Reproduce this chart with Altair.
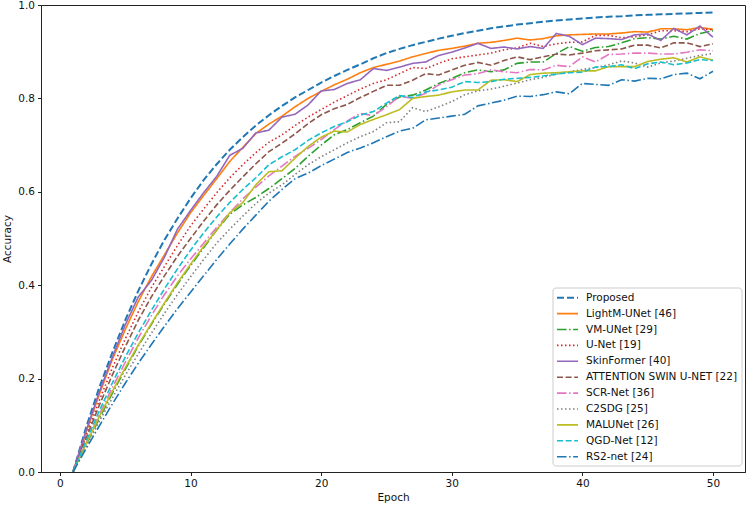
import altair as alt
import pandas as pd

# Training accuracy per epoch for each segmentation model
epochs = list(range(1, 51))

models = [
    "Proposed",
    "LightM-UNet [46]",
    "VM-UNet [29]",
    "U-Net [19]",
    "SkinFormer [40]",
    "ATTENTION SWIN U-NET [22]",
    "SCR-Net [36]",
    "C2SDG [25]",
    "MALUNet [26]",
    "QGD-Net [12]",
    "RS2-net [24]",
]

proposed = [0.000, 0.095, 0.180, 0.255, 0.325, 0.388, 0.445, 0.497, 0.543, 0.586,
            0.625, 0.659, 0.690, 0.717, 0.742, 0.764, 0.784, 0.802, 0.818, 0.834,
            0.848, 0.861, 0.873, 0.886, 0.897, 0.906, 0.914, 0.921, 0.928, 0.934,
            0.940, 0.945, 0.950, 0.954, 0.958, 0.961, 0.964, 0.967, 0.969, 0.971,
            0.973, 0.975, 0.976, 0.978, 0.979, 0.980, 0.981, 0.982, 0.983, 0.984]

lightm_unet = [0.000, 0.085, 0.165, 0.240, 0.305, 0.365, 0.418, 0.465, 0.512, 0.555,
               0.592, 0.628, 0.665, 0.695, 0.725, 0.745, 0.762, 0.782, 0.800, 0.815,
               0.829, 0.841, 0.855, 0.866, 0.873, 0.880, 0.889, 0.896, 0.903, 0.907,
               0.912, 0.918, 0.920, 0.924, 0.929, 0.925, 0.928, 0.934, 0.936, 0.937,
               0.938, 0.938, 0.940, 0.943, 0.942, 0.949, 0.949, 0.947, 0.952, 0.948]

vm_unet = [0.000, 0.058, 0.114, 0.168, 0.220, 0.270, 0.316, 0.360, 0.402, 0.442,
           0.480, 0.518, 0.552, 0.572, 0.588, 0.607, 0.628, 0.650, 0.676, 0.700,
           0.722, 0.733, 0.748, 0.762, 0.787, 0.803, 0.807, 0.818, 0.832, 0.843,
           0.855, 0.861, 0.857, 0.861, 0.875, 0.878, 0.878, 0.896, 0.911, 0.901,
           0.909, 0.911, 0.919, 0.928, 0.930, 0.927, 0.933, 0.927, 0.939, 0.945]

u_net = [0.000, 0.078, 0.152, 0.222, 0.285, 0.343, 0.395, 0.440, 0.485, 0.527,
         0.563, 0.598, 0.630, 0.658, 0.684, 0.706, 0.722, 0.742, 0.760, 0.776,
         0.792, 0.806, 0.820, 0.832, 0.840, 0.853, 0.866, 0.864, 0.875, 0.885,
         0.889, 0.893, 0.897, 0.904, 0.908, 0.918, 0.911, 0.917, 0.920, 0.921,
         0.935, 0.935, 0.930, 0.932, 0.936, 0.945, 0.945, 0.943, 0.949, 0.947]

skinformer = [0.000, 0.088, 0.170, 0.245, 0.315, 0.375, 0.410, 0.460, 0.520, 0.560,
              0.598, 0.633, 0.678, 0.693, 0.726, 0.732, 0.760, 0.766, 0.786, 0.816,
              0.819, 0.832, 0.840, 0.864, 0.860, 0.867, 0.875, 0.878, 0.892, 0.899,
              0.908, 0.918, 0.907, 0.910, 0.906, 0.911, 0.907, 0.939, 0.933, 0.915,
              0.929, 0.928, 0.926, 0.936, 0.938, 0.924, 0.950, 0.936, 0.955, 0.931]

attention_swin = [0.000, 0.072, 0.142, 0.207, 0.268, 0.325, 0.375, 0.420, 0.462, 0.500,
                  0.537, 0.572, 0.603, 0.632, 0.660, 0.686, 0.704, 0.724, 0.746, 0.765,
                  0.778, 0.787, 0.802, 0.815, 0.828, 0.828, 0.839, 0.853, 0.850, 0.861,
                  0.871, 0.877, 0.871, 0.881, 0.889, 0.883, 0.889, 0.895, 0.893, 0.897,
                  0.902, 0.904, 0.906, 0.914, 0.914, 0.908, 0.919, 0.919, 0.911, 0.917]

scr_net = [0.000, 0.062, 0.122, 0.180, 0.235, 0.287, 0.335, 0.380, 0.420, 0.456,
           0.490, 0.524, 0.555, 0.585, 0.610, 0.634, 0.655, 0.676, 0.693, 0.712,
           0.733, 0.752, 0.768, 0.763, 0.782, 0.805, 0.800, 0.811, 0.829, 0.840,
           0.850, 0.853, 0.861, 0.857, 0.855, 0.862, 0.861, 0.871, 0.868, 0.889,
           0.878, 0.894, 0.895, 0.897, 0.897, 0.895, 0.895, 0.899, 0.904, 0.902]

c2sdg = [0.000, 0.055, 0.108, 0.158, 0.207, 0.253, 0.297, 0.340, 0.380, 0.418,
         0.455, 0.490, 0.520, 0.548, 0.575, 0.597, 0.615, 0.637, 0.658, 0.675,
         0.690, 0.705, 0.718, 0.729, 0.748, 0.750, 0.780, 0.772, 0.782, 0.793,
         0.808, 0.816, 0.820, 0.826, 0.833, 0.840, 0.845, 0.852, 0.857, 0.862,
         0.866, 0.872, 0.880, 0.876, 0.867, 0.876, 0.880, 0.886, 0.892, 0.896]

malunet = [0.000, 0.060, 0.118, 0.172, 0.223, 0.272, 0.318, 0.362, 0.405, 0.445,
           0.483, 0.518, 0.555, 0.577, 0.615, 0.643, 0.645, 0.672, 0.697, 0.717,
           0.730, 0.728, 0.744, 0.755, 0.765, 0.776, 0.800, 0.804, 0.807, 0.814,
           0.818, 0.818, 0.839, 0.840, 0.836, 0.851, 0.854, 0.855, 0.857, 0.859,
           0.859, 0.868, 0.868, 0.868, 0.879, 0.884, 0.887, 0.878, 0.889, 0.882]

qgd_net = [0.000, 0.066, 0.130, 0.190, 0.246, 0.298, 0.346, 0.392, 0.435, 0.475,
           0.512, 0.546, 0.577, 0.605, 0.630, 0.658, 0.675, 0.690, 0.710, 0.726,
           0.740, 0.750, 0.764, 0.772, 0.790, 0.806, 0.802, 0.814, 0.818, 0.824,
           0.836, 0.834, 0.836, 0.841, 0.843, 0.845, 0.848, 0.852, 0.855, 0.856,
           0.867, 0.868, 0.872, 0.864, 0.874, 0.878, 0.872, 0.876, 0.883, 0.881]

rs2_net = [0.000, 0.050, 0.098, 0.145, 0.190, 0.233, 0.273, 0.312, 0.350, 0.385,
           0.420, 0.455, 0.488, 0.520, 0.550, 0.580, 0.605, 0.628, 0.640, 0.656,
           0.670, 0.684, 0.694, 0.705, 0.718, 0.730, 0.736, 0.754, 0.758, 0.762,
           0.766, 0.784, 0.790, 0.796, 0.805, 0.804, 0.808, 0.814, 0.810, 0.832,
           0.830, 0.828, 0.840, 0.837, 0.843, 0.842, 0.851, 0.854, 0.842, 0.858]

series = [proposed, lightm_unet, vm_unet, u_net, skinformer, attention_swin,
          scr_net, c2sdg, malunet, qgd_net, rs2_net]

x_ticks = [0, 10, 20, 30, 40, 50]
y_ticks = [0.0, 0.2, 0.4, 0.6, 0.8, 1.0]

# Line styles (tab10 palette, matplotlib-like dash patterns)
DASHED = [6, 2.6]
DASHDOT = [9.5, 2.6, 1.5, 2.6]
DOTTED = [1.5, 2.5]
SOLID = [1, 0]
colors = ["#1f77b4", "#ff7f0e", "#2ca02c", "#d62728", "#9467bd", "#8c564b",
          "#e377c2", "#7f7f7f", "#bcbd22", "#17becf", "#1f77b4"]
dashes = [[7, 3], SOLID, DASHDOT, DOTTED, SOLID, DASHED,
          DASHDOT, DOTTED, SOLID, DASHED, DASHDOT]
widths = [2.0, 1.6, 1.6, 1.6, 1.6, 1.6, 1.6, 1.6, 1.6, 1.6, 1.6]

rows = []
for name, vals in zip(models, series):
    for e, v in zip(epochs, vals):
        rows.append({"model": name, "epoch": e, "accuracy": v})
df = pd.DataFrame(rows)
legend_df = pd.DataFrame({"model": models})

FONT = "DejaVu Sans"
PLOT_W, PLOT_H = 704, 467

x_enc = alt.X(
    "epoch:Q",
    scale=alt.Scale(domain=[-1.45, 52.45], nice=False, zero=False),
    axis=alt.Axis(values=x_ticks, title="Epoch", format="d", titlePadding=3),
)
y_enc = alt.Y(
    "accuracy:Q",
    scale=alt.Scale(domain=[0, 1], nice=False),
    axis=alt.Axis(values=y_ticks, title="Accuracy", format=".1f", titlePadding=5),
)

base = alt.Chart(df)
layers = []
for i, name in enumerate(models):
    layers.append(
        base.transform_filter(alt.datum.model == name)
        .mark_line(color=colors[i], strokeDash=dashes[i], strokeWidth=widths[i],
                   strokeCap="butt", clip=True)
        .encode(x=x_enc, y=y_enc, order="epoch:Q")
    )

# Legend drawn inside the lower-right corner of the plot
box_x0, box_x1, box_y0, box_y1 = 512, 701, 283, 461
row0, row_step = 292.7, 15.9
legend_layers = [
    alt.Chart(legend_df.head(1)).mark_rect(
        fill="white", fillOpacity=0.8, stroke="#cccccc", strokeWidth=1, cornerRadius=3
    ).encode(x=alt.value(box_x0), x2=alt.value(box_x1),
             y=alt.value(box_y0), y2=alt.value(box_y1))
]
leg_base = alt.Chart(legend_df)
for i, name in enumerate(models):
    yy = row0 + row_step * i
    legend_layers.append(
        leg_base.transform_filter(alt.datum.model == name)
        .mark_rule(color=colors[i], strokeDash=dashes[i], strokeWidth=widths[i],
                   strokeCap="butt")
        .encode(x=alt.value(516), x2=alt.value(537), y=alt.value(yy))
    )
    legend_layers.append(
        leg_base.transform_filter(alt.datum.model == name)
        .mark_text(align="left", baseline="middle", font=FONT, fontSize=10.5,
                   color="#111111")
        .encode(x=alt.value(545), y=alt.value(yy), text="model:N")
    )

chart = (
    alt.layer(*layers, *legend_layers)
    .properties(
        width=PLOT_W,
        height=PLOT_H,
        padding={"left": 41, "top": 5, "right": 4, "bottom": 35},
        autosize=alt.AutoSizeParams(type="none"),
        background="white",
    )
    .configure_axis(
        grid=False,
        labelFont=FONT,
        labelFontSize=10.5,
        labelColor="#111111",
        titleFont=FONT,
        titleFontSize=10.5,
        titleFontWeight="normal",
        titleColor="#111111",
        domainColor="#222222",
        domainWidth=1,
        tickColor="#222222",
        tickSize=3.5,
        tickWidth=1,
        labelPadding=3,
    )
    .configure_view(stroke="#222222", strokeWidth=1)
)

chart.save("out.html", embed_options={"renderer": "svg", "actions": False})
